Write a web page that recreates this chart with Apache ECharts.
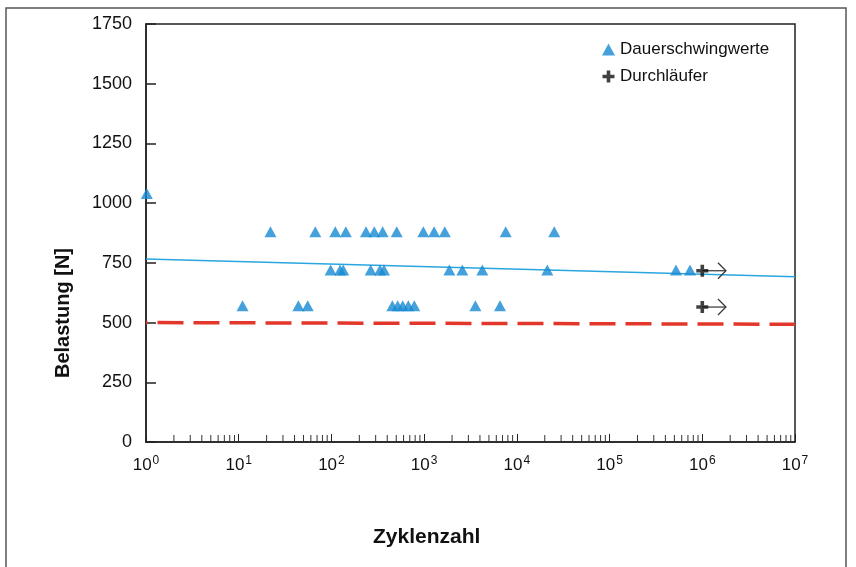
<!DOCTYPE html>
<html>
<head>
<meta charset="utf-8">
<script src="https://cdn.jsdelivr.net/npm/echarts@6/dist/echarts.min.js"></script>
<style>
  html, body { margin: 0; padding: 0; background: #fff; }
  #chart { width: 856px; height: 567px; }
</style>
</head>
<body>
<div id="chart"></div>
<script>
// Dauerschwingwerte: [Zyklenzahl, Belastung]
const dauerPunkte = [
  [1.02, 1040],
  [22, 880], [67, 880], [110, 880], [143, 880], [236, 880], [290, 880],
  [357, 880], [506, 880], [980, 880], [1280, 880], [1670, 880],
  [7580, 880], [25300, 880],
  [98, 720], [124, 720], [134, 720], [265, 720], [334, 720], [369, 720],
  [1870, 720], [2580, 720], [4240, 720], [21300, 720], [520000, 720], [737000, 720],
  [11, 570], [44, 570], [55.5, 570], [454, 570], [519, 570], [587, 570],
  [675, 570], [783, 570], [3570, 570], [6580, 570]
];
// Durchläufer (run-outs) at 10^6
const durchlaeufer = [[1e6, 717], [1e6, 565]];
const pfeilEnde = 1.8e6;
// fitted line and lower limit line (endpoints)
const trendLinie = [[1, 766], [1e7, 692]];
const grenzLinie = [[1, 500], [1e7, 493]];
// axis
const dekaden = [0, 1, 2, 3, 4, 5, 6];
const minorFaktoren = [2, 3, 4, 5, 6, 7, 8, 9];

const minorTicks = [];
dekaden.forEach((d) => {
  minorFaktoren.forEach((m) => minorTicks.push([m * Math.pow(10, d), 0]));
});

const font = "'Liberation Sans', Arial, sans-serif";
const plusPath = 'path://M3.5,0H6.5V3.5H10V6.5H6.5V10H3.5V6.5H0V3.5H3.5Z';

const chart = echarts.init(document.getElementById('chart'));
const option = {
  animation: false,
  backgroundColor: '#fff',
  textStyle: { fontFamily: font },
  grid: {
    left: 146, right: 61, top: 24, bottom: 125,
    show: true, borderColor: '#222', borderWidth: 1.5
  },
  legend: {
    data: ['Dauerschwingwerte', 'Durchläufer'],
    orient: 'vertical',
    left: 597, top: 36,
    itemGap: 10,
    itemWidth: 13, itemHeight: 12,
    textStyle: { fontSize: 17, color: '#111', fontFamily: font }
  },
  xAxis: {
    type: 'log',
    logBase: 10,
    min: 1, max: 1e7,
    splitNumber: 7,
    axisLine: { lineStyle: { color: '#222', width: 1.5 } },
    axisTick: { inside: true, length: 8, lineStyle: { color: '#222', width: 1 } },
    splitLine: { show: false },
    axisLabel: {
      margin: 13,
      formatter: (v) => '{b|10}{s|' + Math.round(Math.log10(v)) + '}',
      rich: {
        b: { fontSize: 17, color: '#111', fontFamily: font, lineHeight: 20 },
        s: { fontSize: 12, color: '#111', fontFamily: font, verticalAlign: 'top', lineHeight: 20, padding: [0, 0, 10, 1] }
      }
    }
  },
  yAxis: {
    type: 'value',
    min: 0, max: 1750, interval: 250,
    axisLine: { show: true, lineStyle: { color: '#222', width: 1.5 } },
    axisTick: { show: true, inside: true, length: 10, lineStyle: { color: '#222', width: 1.5 } },
    splitLine: { show: false },
    axisLabel: { margin: 14, fontSize: 18, color: '#111', fontFamily: font, formatter: (v) => String(v) }
  },
  graphic: [
    {
      type: 'rect', silent: true,
      shape: { x: 6, y: 8, width: 840, height: 570 },
      style: { fill: 'none', stroke: '#555', lineWidth: 1.5 }
    },
    {
      type: 'text', left: 53, top: 248, rotation: Math.PI / 2,
      style: {
        text: 'Belastung [N]', fill: '#111',
        font: "bold 20px 'Liberation Sans', Arial, sans-serif",
        align: 'center', verticalAlign: 'middle'
      }
    },
    {
      type: 'text', left: 373, top: 527,
      style: {
        text: 'Zyklenzahl', fill: '#111',
        font: "bold 21px 'Liberation Sans', Arial, sans-serif"
      }
    }
  ],
  series: [
    {
      name: 'Grenze',
      type: 'line',
      data: grenzLinie,
      symbol: 'none',
      z: 1,
      lineStyle: { color: '#e2372a', width: 3.5, type: [26, 10], dashOffset: 24.5 }
    },
    {
      name: 'Trend',
      type: 'line',
      data: trendLinie,
      symbol: 'none',
      z: 1,
      lineStyle: { color: '#29a6e0', width: 1.5 }
    },
    {
      name: 'minorTicks',
      type: 'custom',
      data: minorTicks,
      silent: true,
      z: 3,
      renderItem: (params, api) => {
        const p = api.coord([api.value(0), api.value(1)]);
        return {
          type: 'line',
          shape: { x1: p[0], y1: p[1] - 1, x2: p[0], y2: p[1] - 7 },
          style: { stroke: '#333', lineWidth: 1 }
        };
      }
    },
    {
      name: 'Dauerschwingwerte',
      type: 'scatter',
      data: dauerPunkte,
      symbol: 'triangle',
      symbolSize: [12, 11],
      itemStyle: { color: '#1689d2' },
      z: 4
    },
    {
      name: 'Pfeile',
      type: 'custom',
      data: durchlaeufer,
      silent: true,
      z: 4,
      renderItem: (params, api) => {
        const y = api.value(1);
        const p0 = api.coord([api.value(0), y]);
        const p1 = api.coord([pfeilEnde, y]);
        return {
          type: 'group',
          children: [
            {
              type: 'line',
              shape: { x1: p0[0], y1: p0[1], x2: p1[0], y2: p1[1] },
              style: { stroke: '#333', lineWidth: 1.2 }
            },
            {
              type: 'polyline',
              shape: { points: [[p1[0] - 8, p1[1] - 8], [p1[0], p1[1]], [p1[0] - 8, p1[1] + 8]] },
              style: { stroke: '#333', lineWidth: 1.2, fill: 'none' }
            }
          ]
        };
      }
    },
    {
      name: 'Durchläufer',
      type: 'scatter',
      data: durchlaeufer,
      symbol: plusPath,
      symbolSize: 12,
      itemStyle: { color: '#111' },
      z: 5
    }
  ]
};
chart.setOption(option);
</script>
</body>
</html>
